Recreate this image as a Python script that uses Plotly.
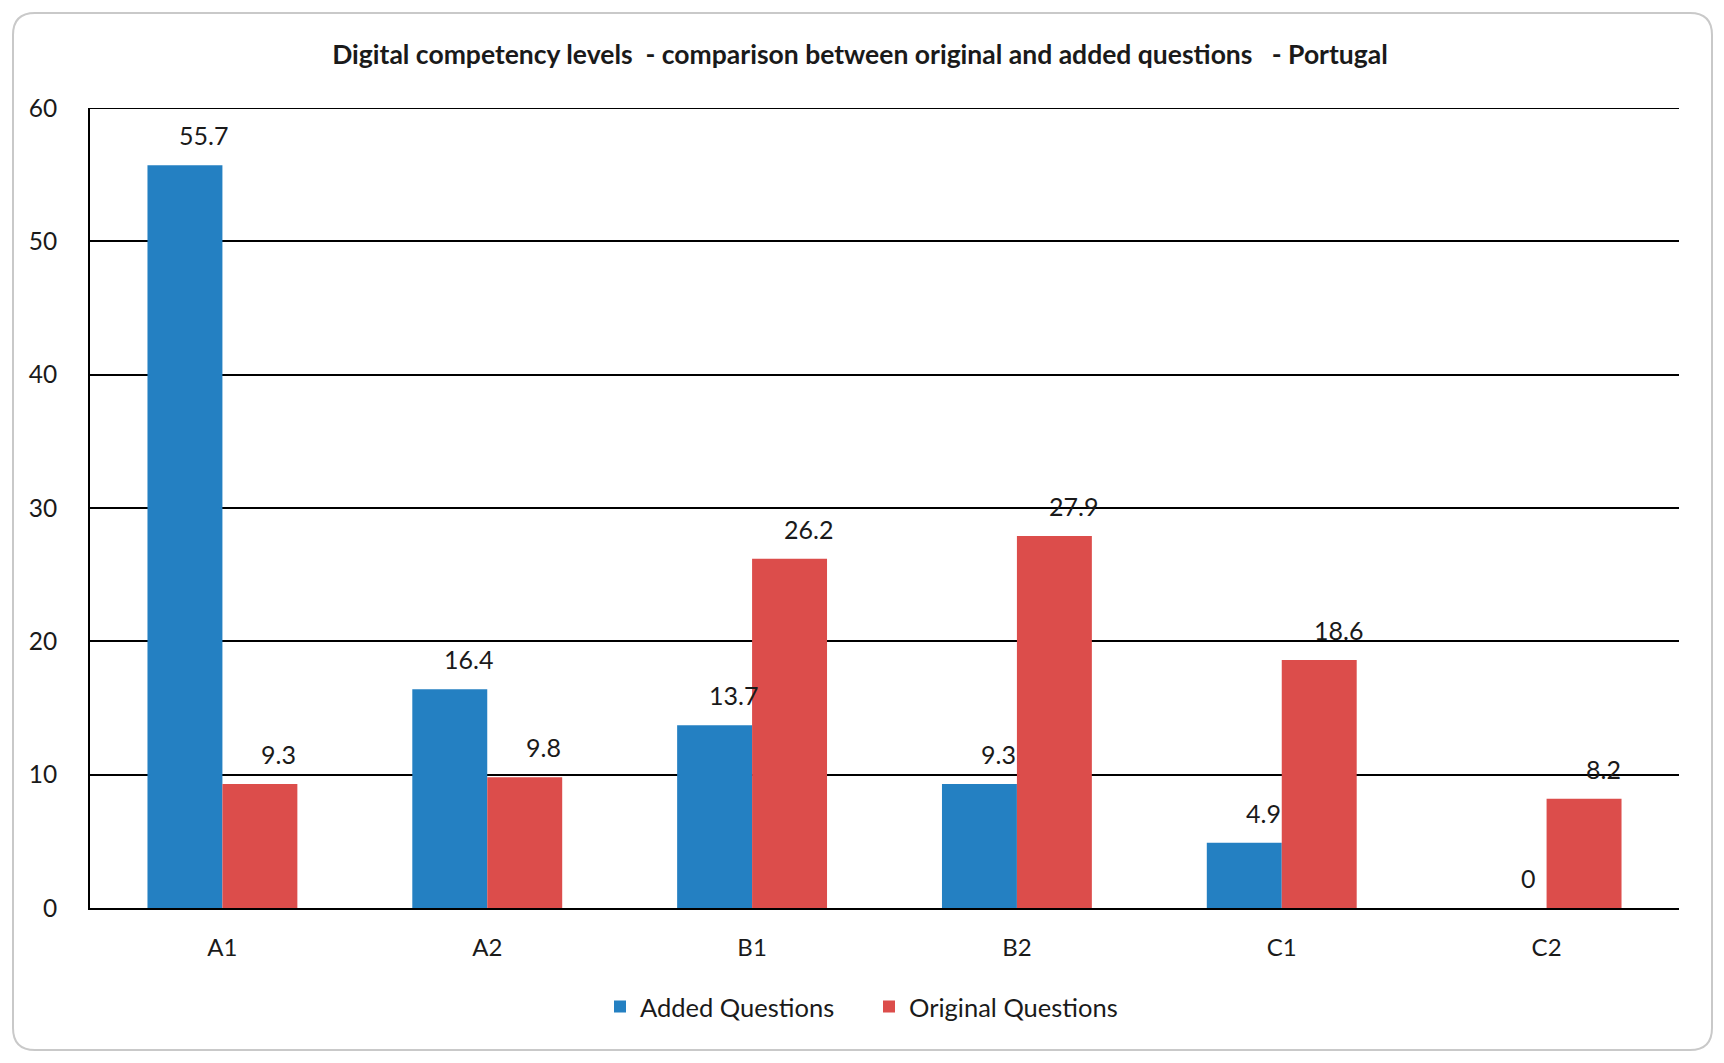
import plotly.graph_objects as go

categories = ["A1", "A2", "B1", "B2", "C1", "C2"]
added_questions = [55.7, 16.4, 13.7, 9.3, 4.9, 0]
original_questions = [9.3, 9.8, 26.2, 27.9, 18.6, 8.2]
y_ticks = [0, 10, 20, 30, 40, 50, 60]
title_text = "Digital competency levels  - comparison between original and added questions   - Portugal"

W, H = 1724, 1063
ML, MR, MT, MB = 90, 45, 108, 155
BLUE = "#2480C2"
RED = "#DC4D4B"
FONT = "Lato"
TXT = "#1a1a1a"
BARGAP = 0.434

fig = go.Figure()
fig.add_trace(go.Bar(name="Added Questions", x=categories, y=added_questions,
                     marker=dict(color=BLUE, line=dict(width=0))))
fig.add_trace(go.Bar(name="Original Questions", x=categories, y=original_questions,
                     marker=dict(color=RED, line=dict(width=0))))

pw = W - ML - MR
ph = H - MT - MB
cat_px = pw / len(categories)
half = (1 - BARGAP) / 2 * cat_px / 2  # offset of each bar centre from category centre
label_dx = 19
label_dy = 30

annotations = []
for series, sign in ((added_questions, -1), (original_questions, 1)):
    for c, v in zip(categories, series):
        annotations.append(dict(x=c, y=v, xref="x", yref="y", text=f"{v:g}",
                                showarrow=False, xshift=sign * half + label_dx,
                                yshift=label_dy, yanchor="middle",
                                font=dict(family=FONT, size=25, color=TXT)))

# rounded outer border (in paper coords)
def px2x(px):
    return (px - ML) / pw

def py2y(py):
    return (H - MB - py) / ph

x0, x1, y0, y1, r = 13, 1712, 13, 1050, 22
path = (f"M {px2x(x0+r)},{py2y(y0)} L {px2x(x1-r)},{py2y(y0)} "
        f"Q {px2x(x1)},{py2y(y0)} {px2x(x1)},{py2y(y0+r)} "
        f"L {px2x(x1)},{py2y(y1-r)} Q {px2x(x1)},{py2y(y1)} {px2x(x1-r)},{py2y(y1)} "
        f"L {px2x(x0+r)},{py2y(y1)} Q {px2x(x0)},{py2y(y1)} {px2x(x0)},{py2y(y1-r)} "
        f"L {px2x(x0)},{py2y(y0+r)} Q {px2x(x0)},{py2y(y0)} {px2x(x0+r)},{py2y(y0)} Z")

shapes = [
    dict(type="path", path=path, xref="paper", yref="paper",
         line=dict(color="#c9c9c9", width=2), fillcolor="rgba(0,0,0,0)", layer="below"),
    # top gridline (plotly hides the grid line at the range edge)
    dict(type="line", xref="paper", yref="y", x0=0, x1=1, y0=y_ticks[-1], y1=y_ticks[-1],
         line=dict(color="black", width=2), layer="below"),
]

fig.update_layout(
    width=W, height=H,
    margin=dict(l=ML, r=MR, t=MT, b=MB, autoexpand=False),
    paper_bgcolor="white", plot_bgcolor="white",
    barmode="group", bargap=BARGAP, bargroupgap=0,
    title=dict(text=f"<b>{title_text}</b>", x=860 / W, xref="container", xanchor="center",
               y=1 - 55 / H, yref="container", yanchor="middle",
               font=dict(family=FONT, size=26.5, color=TXT)),
    font=dict(family=FONT, size=24, color=TXT),
    legend=dict(orientation="h", x=(869 - ML) / pw, xanchor="center",
                y=-99 / ph, yanchor="middle", font=dict(family=FONT, size=25.5, color=TXT),
                itemwidth=30, entrywidth=224, entrywidthmode="pixels",
                traceorder="normal", bgcolor="rgba(0,0,0,0)"),
    xaxis=dict(showgrid=False, showline=True, linecolor="black", linewidth=2,
               ticks="", ticklabelstandoff=17, tickfont=dict(family=FONT, size=24, color=TXT),
               fixedrange=True),
    yaxis=dict(range=[0, 60], tickvals=y_ticks, showgrid=True, gridcolor="black", gridwidth=2,
               showline=True, linecolor="black", linewidth=2, zeroline=False,
               ticks="", ticklabelstandoff=26, tickfont=dict(family=FONT, size=24.5, color=TXT),
               fixedrange=True),
    annotations=annotations,
    shapes=shapes,
    showlegend=True,
)

fig.write_html("out.html", config={"displayModeBar": False},
               post_script="document.body.style.margin='0';")
